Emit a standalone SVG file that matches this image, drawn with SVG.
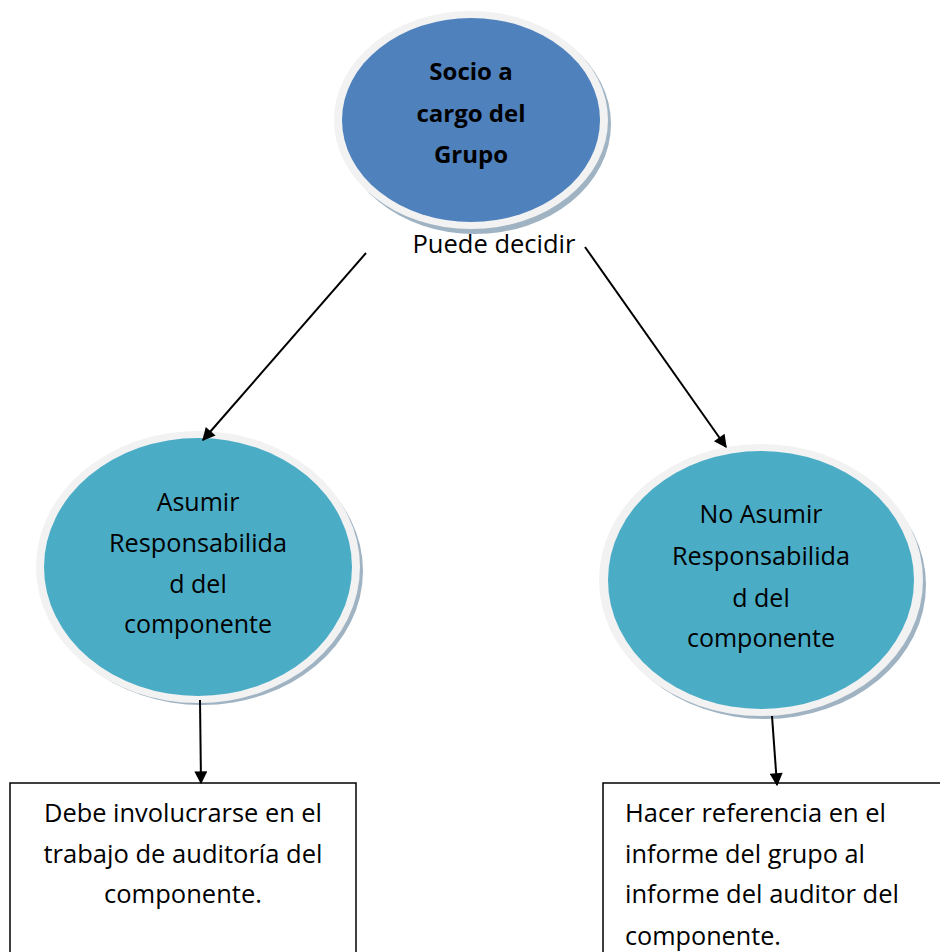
<svg xmlns="http://www.w3.org/2000/svg" width="940" height="952" viewBox="0 0 940 952">
<style>
.t{font-family:"Open Sans","Liberation Sans",sans-serif;font-size:25px;fill:#000;text-anchor:middle}
.b{font-weight:bold;font-size:24px}
.n{font-size:25px}
.s{text-anchor:start}
.ring{fill:#F2F2F2}
.shadow{fill:#9FB3C3}
.box{fill:#fff;stroke:#000;stroke-width:1.5}
.c{stroke:#000;stroke-width:2;fill:none;marker-end:url(#ah)}
</style>
<defs>
<marker id="ah" viewBox="0 0 10 10" refX="9" refY="5" markerWidth="16" markerHeight="13" markerUnits="userSpaceOnUse" orient="auto">
<path d="M0,0 L10,5 L0,10 z" fill="#000"/>
</marker>
</defs>
<rect width="940" height="952" fill="#fff"/>
<g id="socio">
<ellipse class="shadow" cx="475" cy="124" rx="136" ry="110"/>
<ellipse class="ring" cx="471" cy="120" rx="137" ry="109"/>
<ellipse cx="471" cy="120" rx="129" ry="102" fill="#4F81BD"/>
<text class="t b" x="471" y="80">Socio a</text>
<text class="t b" x="471" y="122">cargo del</text>
<text class="t b" x="471" y="163">Grupo</text>
</g>
<g id="label">
<text class="t" x="494" y="253" textLength="163" lengthAdjust="spacingAndGlyphs">Puede decidir</text>
</g>
<g id="asumir">
<ellipse class="shadow" cx="202" cy="571" rx="161" ry="134"/>
<ellipse class="ring" cx="198" cy="567" rx="162" ry="136"/>
<ellipse cx="198" cy="567" rx="154" ry="129" fill="#4BACC6"/>
<text class="t" x="198" y="511">Asumir</text>
<text class="t" x="198" y="552" textLength="178" lengthAdjust="spacingAndGlyphs">Responsabilida</text>
<text class="t" x="198" y="593">d del</text>
<text class="t" x="198" y="633">componente</text>
</g>
<g id="noasumir">
<ellipse class="shadow" cx="765" cy="585" rx="161" ry="134"/>
<ellipse class="ring" cx="761" cy="580" rx="162" ry="136"/>
<ellipse cx="761" cy="580" rx="153" ry="129" fill="#4BACC6"/>
<text class="t" x="761" y="523">No Asumir</text>
<text class="t" x="761" y="565" textLength="178" lengthAdjust="spacingAndGlyphs">Responsabilida</text>
<text class="t" x="761" y="607">d del</text>
<text class="t" x="761" y="647">componente</text>
</g>
<g id="debe">
<rect class="box" x="10" y="783" width="346" height="180"/>
<text class="t n" x="183" y="822" textLength="278" lengthAdjust="spacingAndGlyphs">Debe involucrarse en el</text>
<text class="t n" x="183" y="863" textLength="279" lengthAdjust="spacingAndGlyphs">trabajo de auditoría del</text>
<text class="t n" x="183" y="903" textLength="158" lengthAdjust="spacingAndGlyphs">componente.</text>
</g>
<g id="hacer">
<rect class="box" x="603" y="783" width="345" height="180"/>
<text class="t n s" x="625" y="822" textLength="261" lengthAdjust="spacingAndGlyphs">Hacer referencia en el</text>
<text class="t n s" x="625" y="863" textLength="240" lengthAdjust="spacingAndGlyphs">informe del grupo al</text>
<text class="t n s" x="625" y="903" textLength="274" lengthAdjust="spacingAndGlyphs">informe del auditor del</text>
<text class="t n s" x="625" y="945" textLength="156" lengthAdjust="spacingAndGlyphs">componente.</text>
</g>
<g id="connectors">
<line class="c" x1="366" y1="253" x2="203" y2="440"/>
<line class="c" x1="585" y1="247" x2="726" y2="447"/>
<line class="c" x1="200" y1="700" x2="201" y2="783"/>
<line class="c" x1="772" y1="716" x2="777" y2="785"/>
</g>
</svg>
